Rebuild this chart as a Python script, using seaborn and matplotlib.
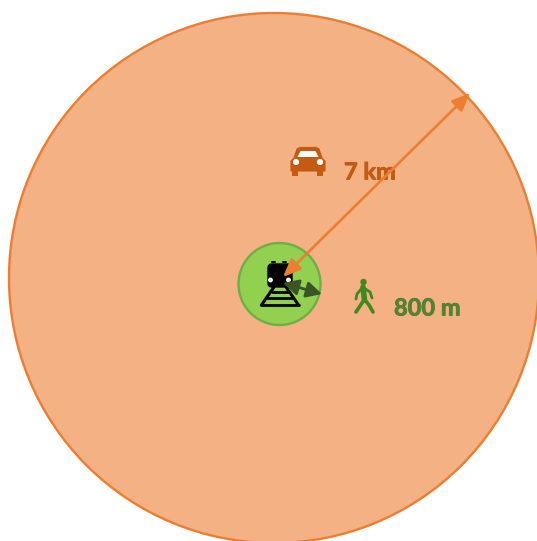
import matplotlib
matplotlib.use("Agg")
import matplotlib.pyplot as plt
import matplotlib.patheffects as pe
import seaborn as sns
from matplotlib.patches import Circle, Polygon, FancyBboxPatch, FancyArrowPatch

# ============================================
# VALUES
# ============================================

zone_names = ["car", "walk"]
zone_x = [274, 279.5]
zone_y = [278, 284]
zone_radius = [265, 41]
zone_fill = ["#F4B183", "#92D050"]
zone_edge = ["#ED7D31", "#70AD47"]

labels = ["7 km", "800 m"]
label_x = [344, 394]
label_y = [172, 308]
label_color = ["#C55A11", "#548235"]

arrow_start = [(283, 277), (283, 283)]
arrow_end = [(470, 93), (322, 294)]
arrow_color = ["#ED7D31", "#375623"]
arrow_width = [1.9, 2.0]
arrow_head = ["<|-|>,head_length=0.72,head_width=0.3", "<|-|>,head_length=0.62,head_width=0.32"]

# ============================================
# SETUP
# ============================================

sns.set_style("white")
plt.rcParams['font.family'] = ['Lato', 'DejaVu Sans']

fig = plt.figure(figsize=(5.37, 5.41), dpi=100)
ax = fig.add_axes([0, 0, 1, 1])
ax.set_xlim(0, 537)
ax.set_ylim(541, 0)
ax.axis("off")

# ============================================
# CIRCLES
# ============================================

for i in range(len(zone_names)):
    ax.add_patch(Circle((zone_x[i], zone_y[i]), zone_radius[i],
                        facecolor=zone_fill[i], edgecolor=zone_edge[i],
                        linewidth=1.7, zorder=i + 1))

# ============================================
# TRAIN ICON
# ============================================

ax.add_patch(FancyBboxPatch((268, 264), 24, 23, boxstyle="round,pad=0,rounding_size=4",
                            facecolor="black", edgecolor="black", linewidth=1, zorder=3))
ax.plot([272, 275], [261.5, 261.5], color="black", lw=1.4, zorder=3)
ax.plot([283, 286], [261.5, 261.5], color="black", lw=1.4, zorder=3)
ax.add_patch(Circle((270.5, 280), 1.7, facecolor="#d8efb8", zorder=4))
ax.add_patch(Circle((288.5, 280), 1.7, facecolor="#d8efb8", zorder=4))

ax.plot([274, 261.5], [287, 305], color="black", lw=2.2, zorder=3)
ax.plot([286, 298.5], [287, 305], color="black", lw=2.2, zorder=3)
for y, x0, x1 in [(291.5, 272, 288), (298, 267, 293), (304.5, 261, 299)]:
    ax.plot([x0, x1], [y, y], color="black", lw=2.0, zorder=3)

# ============================================
# ARROWS
# ============================================

for i in range(len(arrow_start)):
    ax.add_patch(FancyArrowPatch(arrow_start[i], arrow_end[i], arrowstyle=arrow_head[i],
                                 mutation_scale=15, color=arrow_color[i],
                                 lw=arrow_width[i], shrinkA=0, shrinkB=0, zorder=5))

# ============================================
# CAR ICON
# ============================================

car = "#C55A11"
ax.add_patch(Polygon([(291, 161), (294, 158), (297, 149), (300, 147.5), (316, 147.5), (319, 149),
                      (322, 158), (325, 161), (325, 171), (291, 171)],
                     facecolor=car, edgecolor=car, linewidth=0.8, zorder=3))
ax.add_patch(Polygon([(297.5, 157), (300.5, 151), (315.5, 151), (318.5, 157)],
                     facecolor="white", edgecolor="none", zorder=4))
ax.add_patch(Circle((296, 162), 2.4, facecolor="white", zorder=4))
ax.add_patch(Circle((320, 162), 2.4, facecolor="white", zorder=4))
for x0, x1 in [(292, 298), (317, 323)]:
    ax.add_patch(Polygon([(x0, 170), (x1, 170), (x1, 176), (x0, 176)],
                         facecolor=car, edgecolor="none", zorder=3))

# ============================================
# WALKER ICON
# ============================================

walker = "#3F8A1E"
ax.add_patch(Circle((363.5, 282), 3.2, facecolor=walker, edgecolor="none", zorder=3))
ax.plot([363, 364.5], [287, 300], color=walker, lw=4.0, zorder=3, solid_capstyle="round")
ax.plot([362, 357, 356], [288, 294, 299], color=walker, lw=2.0, zorder=3)
ax.plot([364, 370, 372], [288, 292, 298], color=walker, lw=2.0, zorder=3)
ax.plot([364, 360, 356], [300, 306, 312], color=walker, lw=2.6, zorder=3)
ax.plot([365, 369, 373], [300, 305, 312], color=walker, lw=2.6, zorder=3)

# ============================================
# LABELS
# ============================================

for i in range(len(labels)):
    ax.text(label_x[i], label_y[i], labels[i], color=label_color[i], fontsize=17,
            fontweight="bold", va="center", ha="left", zorder=4,
            path_effects=[pe.withStroke(linewidth=0.6, foreground=label_color[i])])

plt.savefig("out.png", dpi=100)
